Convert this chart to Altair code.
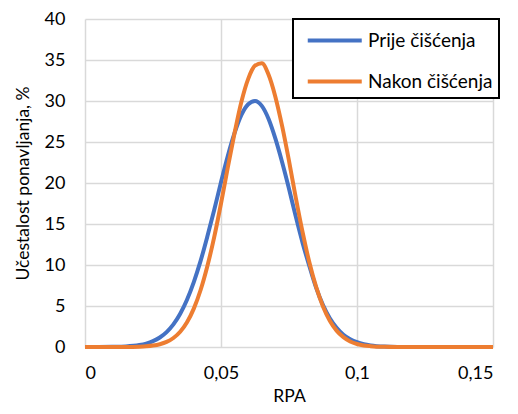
import altair as alt
import pandas as pd

# RPA values (x)
rpa = [0.0, 0.005, 0.01, 0.015, 0.02, 0.0225, 0.025, 0.0275, 0.03, 0.0325, 0.035,
       0.0375, 0.04, 0.0425, 0.045, 0.0475, 0.05, 0.0525, 0.055, 0.0575, 0.06,
       0.0625, 0.065, 0.0675, 0.07, 0.0725, 0.075, 0.0775, 0.08, 0.0825, 0.085,
       0.0875, 0.09, 0.0925, 0.095, 0.0975, 0.1, 0.1025, 0.105, 0.11, 0.115,
       0.12, 0.13, 0.14, 0.15]

# "Prije čišćenja" (blue) frequency, %
prije = [0.0, 0.0, 0.02, 0.07, 0.24, 0.42, 0.71, 1.16, 1.82, 2.76, 4.06,
         5.77, 7.92, 10.5, 13.5, 16.7, 20.1, 23.3, 26.1, 28.3, 29.6,
         30.0, 29.4, 27.8, 25.4, 22.5, 19.3, 15.9, 12.7, 9.85, 7.2,
         5.1, 3.5, 2.35, 1.5, 0.95, 0.58, 0.34, 0.19, 0.05, 0.01,
         0.0, 0.0, 0.0, 0.0]

# "Nakon čišćenja" (orange) frequency, %
nakon = [0.0, 0.0, 0.0, 0.0, 0.04, 0.09, 0.18, 0.34, 0.62, 1.1, 1.86,
         3.02, 4.68, 6.95, 9.88, 13.4, 17.5, 21.9, 26.1, 29.9, 32.7,
         34.3, 34.6, 33.2, 30.5, 26.9, 22.7, 18.2, 14.0, 10.3, 7.3,
         4.95, 3.2, 2.0, 1.2, 0.68, 0.37, 0.19, 0.1, 0.02, 0.0,
         0.0, 0.0, 0.0, 0.0]

series_names = ["Prije čišćenja", "Nakon čišćenja"]
series_colors = ["#4472C4", "#ED7D31"]
x_ticks = [0, 0.05, 0.1, 0.15]
y_ticks = [0, 5, 10, 15, 20, 25, 30, 35, 40]

rows = []
for name, vals in zip(series_names, [prije, nakon]):
    for x, y in zip(rpa, vals):
        rows.append({"RPA": x, "value": y, "series": name})
df = pd.DataFrame(rows)

FONT = "Lato"
NBSP = "\u00a0"

chart = alt.Chart(df).mark_line(strokeWidth=4, interpolate="monotone").encode(
    x=alt.X("RPA:Q",
            scale=alt.Scale(domain=[0, 0.15], nice=False),
            axis=alt.Axis(values=x_ticks, title="RPA",
                          labelExpr="replace(toString(datum.value), '.', ',')",
                          labelPadding=17, titlePadding=5)),
    y=alt.Y("value:Q",
            scale=alt.Scale(domain=[0, 40], nice=False),
            axis=alt.Axis(values=y_ticks, title="Učestalost ponavljanja, %",
                          labelPadding=20, titlePadding=12)),
    color=alt.Color("series:N",
                    scale=alt.Scale(domain=series_names, range=series_colors),
                    legend=alt.Legend(title=None, orient="none",
                                      legendX=208, legendY=0,
                                      symbolType="M-0.5,0H3.5", symbolSize=729,
                                      symbolStrokeWidth=4, labelOffset=38,
                                      rowPadding=15, padding=6,
                                      strokeColor="black", fillColor="white",
                                      labelFontSize=19, labelFont=FONT,
                                      labelColor="black", labelLimit=300,
                                      labelExpr="datum.label + '" + NBSP + NBSP + "'")),
    order=alt.Order("series_order:Q"),
).transform_calculate(
    series_order="datum.series == 'Prije čišćenja' ? 0 : 1"
).properties(
    width=408, height=328,
    autosize=alt.AutoSizeParams(type="none"),
    padding={"left": 77, "top": 11, "right": 17, "bottom": 59},
).configure_axis(
    grid=True, gridColor="#D9D9D9", gridWidth=1.5,
    domain=False, ticks=False,
    labelFont=FONT, labelFontSize=18, labelColor="black",
    titleFont=FONT, titleFontSize=17.5, titleColor="black", titleFontWeight="normal",
).configure_view(stroke=None).configure_legend(strokeWidth=2)

chart.save("out.html", embed_options={"renderer": "svg", "actions": False})
